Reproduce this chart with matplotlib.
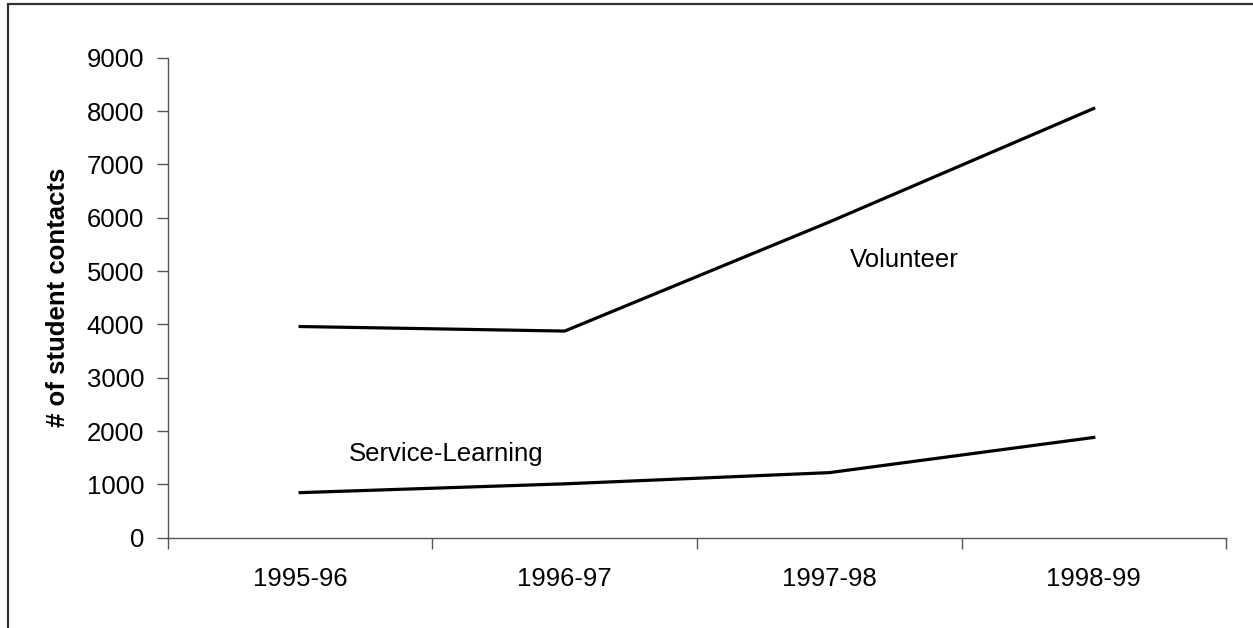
import matplotlib.pyplot as plt
from matplotlib.patches import Rectangle

plt.rcParams["font.family"] = ["Liberation Sans", "DejaVu Sans"]

years = ["1995-96", "1996-97", "1997-98", "1998-99"]
volunteer = [3960, 3875, 5920, 8050]
service_learning = [845, 1010, 1220, 1880]
y_ticks = [0, 1000, 2000, 3000, 4000, 5000, 6000, 7000, 8000, 9000]

FS = 18.5

fig = plt.figure(figsize=(12.53, 6.28), dpi=100)
ax = fig.add_axes([0.134, 0.1438, 0.8445, 0.7642])

x = [i + 0.5 for i in range(len(years))]
ax.plot(x, volunteer, color="black", lw=2.3)
ax.plot(x, service_learning, color="black", lw=2.3)

ax.text(2.578, 5210, "Volunteer", fontsize=FS, va="center", ha="left")
ax.text(0.685, 1570, "Service-Learning", fontsize=FS, va="center", ha="left")

ax.set_xlim(0, len(years))
ax.set_ylim(0, 9000)
ax.set_yticks(y_ticks)
ax.tick_params(axis="y", labelsize=FS, length=8, width=1, color="#555555", pad=9)

ax.set_xticks(range(len(years) + 1))
ax.set_xticklabels([])
ax.set_xticks(x, minor=True)
ax.set_xticklabels(years, minor=True)
ax.tick_params(axis="x", which="major", length=8, width=1, color="#555555")
ax.tick_params(axis="x", which="minor", length=0, labelsize=FS, pad=21)

ax.set_ylabel("# of student contacts", fontsize=FS, fontweight="bold", labelpad=12)

for side in ["top", "right"]:
    ax.spines[side].set_visible(False)
for side in ["left", "bottom"]:
    ax.spines[side].set_color("#555555")
    ax.spines[side].set_linewidth(1)

# outer frame, only top and left edges fall inside the image
fig.patches.append(Rectangle((8 / 1253, -0.1), 1.2, 1.1 - 4 / 628, transform=fig.transFigure,
                             fill=False, edgecolor="#333333", lw=1.6))

fig.savefig("out.png", dpi=100, facecolor="white")
